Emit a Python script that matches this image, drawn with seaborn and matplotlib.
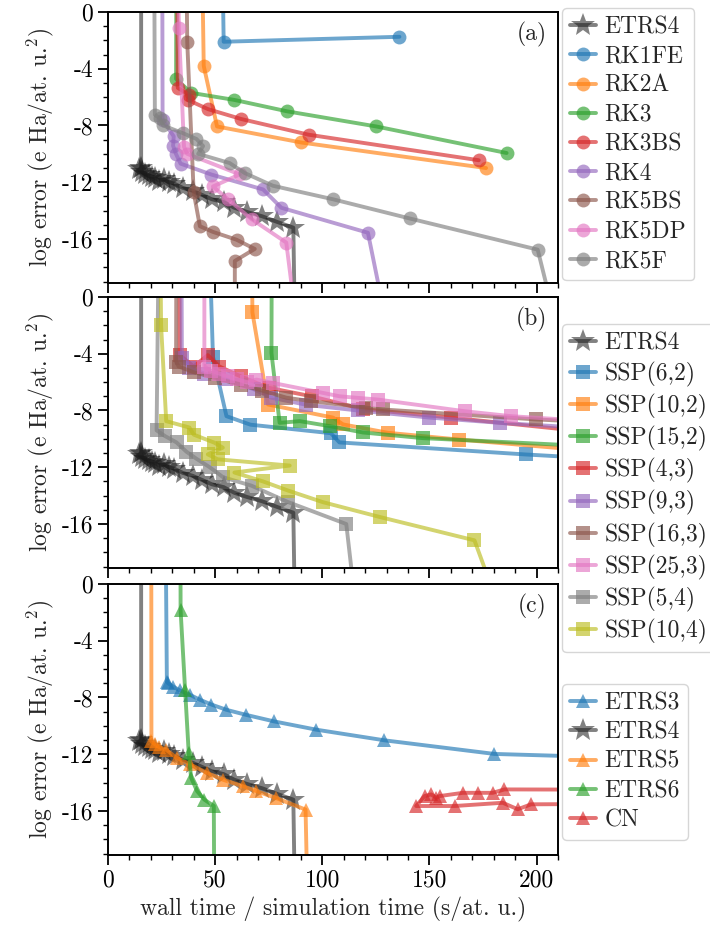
import matplotlib
matplotlib.use("Agg")
import matplotlib.pyplot as plt
from matplotlib.ticker import MultipleLocator, FuncFormatter
import seaborn as sns

# ---------------- DATA (wall time / sim time, log error) ----------------
# off-axis points (y > 0 or y < -19) only carry the lines out of the frame

etrs4_t = [15.5, 15.5, 14.5, 16.0, 17.5, 19.0, 20.5, 22.0, 24.0, 26.0, 28.5, 31.0, 35.0,
           39.5, 44.0, 48.5, 54.0, 59.0, 65.0, 72.0, 79.0, 86.5, 87.5]
etrs4_err = [8, -11.0, -11.1, -11.3, -11.4, -11.5, -11.6, -11.7, -11.9, -11.8, -12.0, -12.1, -12.4,
             -12.6, -12.9, -13.2, -13.4, -13.8, -14.1, -14.4, -14.8, -15.2, -25]

# panel (a): explicit Runge-Kutta
rk1fe_t = [53.0, 54.0, 136.0]
rk1fe_err = [8, -2.1, -1.75]
rk2a_t = [43.5, 44.7, 50.9, 90.2, 176.4]
rk2a_err = [8, -3.8, -8.07, -9.2, -11.0]
rk3_t = [32.0, 31.8, 38.8, 59.0, 83.5, 125.2, 186.0]
rk3_err = [8, -4.72, -5.7, -6.2, -7.0, -8.07, -9.94]
rk3bs_t = [32.0, 32.6, 38.0, 37.3, 46.7, 62.3, 93.6, 173.0]
rk3bs_err = [8, -5.35, -5.85, -6.2, -6.85, -7.55, -8.65, -10.45]
rk4_t = [25.3, 25.5, 30.7, 30.4, 31.7, 33.9, 48.3, 72.4, 80.9, 121.3, 134.0]
rk4_err = [8, -7.6, -8.77, -9.43, -9.99, -10.69, -11.46, -12.51, -13.8, -15.56, -25]
rk5bs_t = [36.3, 37.0, 40.0, 42.9, 49.0, 60.0, 68.5, 59.2, 59.2]
rk5bs_err = [8, -2.1, -12.7, -15.1, -15.5, -16.05, -16.7, -17.55, -25]
rk5dp_t = [32.5, 33.1, 35.5, 37.0, 61.5, 49.0, 56.0, 67.0, 83.2, 90.5]
rk5dp_err = [8, -1.15, -9.5, -10.0, -11.45, -12.3, -13.2, -14.6, -16.25, -25]
rk5f_t = [21.5, 21.9, 24.2, 25.8, 35.1, 41.3, 44.4, 42.1, 56.8, 63.8, 77.0, 105.0, 140.7, 200.5, 214.0]
rk5f_err = [8, -7.25, -7.5, -8.0, -8.55, -8.95, -9.45, -10.0, -10.65, -11.35, -12.25, -13.2, -14.55, -16.75, -25]

# panel (b): strong-stability-preserving
ssp62_t = [46.5, 49.0, 55.3, 66.5, 104.0, 108.0, 195.0, 230.0]
ssp62_err = [8, -4.2, -8.4, -9.0, -9.6, -10.25, -11.1, -11.4]
ssp102_t = [67.0, 67.4, 74.7, 105.0, 109.7, 130.6, 164.0, 230.0]
ssp102_err = [8, -1.08, -7.58, -8.5, -8.98, -9.57, -10.05, -10.9]
ssp152_t = [76.5, 76.3, 80.1, 89.5, 103.4, 119.0, 147.0, 230.0]
ssp152_err = [8, -3.95, -8.87, -8.75, -9.1, -9.55, -9.95, -10.55]
ssp43_t = [33.3, 33.5, 40.0, 46.6, 52.0, 62.0, 75.0, 95.0, 118.9, 160.0, 230.0]
ssp43_err = [8, -4.1, -4.9, -4.1, -4.9, -5.6, -6.4, -7.0, -7.9, -8.5, -9.6]
ssp93_t = [34.2, 34.5, 38.0, 45.0, 55.0, 68.0, 76.3, 92.6, 116.6, 150.0, 182.7, 230.0]
ssp93_err = [8, -4.3, -5.0, -5.4, -5.8, -6.5, -7.1, -7.6, -8.0, -8.5, -8.87, -9.3]
ssp163_t = [32.0, 31.8, 33.0, 40.0, 50.0, 62.0, 72.0, 83.3, 94.9, 120.5, 128.3, 199.8, 230.0]
ssp163_err = [8, -4.55, -4.9, -5.3, -5.7, -6.2, -6.6, -7.1, -7.35, -7.8, -7.93, -8.63, -8.85]
ssp253_t = [45.0, 45.0, 48.0, 52.0, 56.0, 60.0, 65.0, 69.3, 77.0, 100.3, 108.1, 116.6, 126.0, 166.4, 188.1, 230.0]
ssp253_err = [8, -4.9, -5.2, -5.4, -5.6, -5.8, -6.0, -5.82, -6.06, -6.76, -7.0, -7.11, -7.23, -8.05, -8.4, -8.8]
ssp54_t = [24.0, 22.7, 26.6, 32.0, 36.6, 41.3, 47.5, 53.7, 67.0, 84.0, 111.2, 118.0]
ssp54_err = [8, -9.4, -9.8, -10.25, -10.9, -11.4, -12.0, -12.7, -13.3, -14.45, -16.0, -25]
ssp104_t = [24.2, 24.8, 27.2, 38.0, 40.0, 49.7, 53.6, 46.6, 51.2, 84.8, 59.0, 72.4, 84.0, 100.3, 126.7, 171.0, 190.0]
ssp104_err = [8, -2.0, -8.75, -9.2, -9.7, -10.27, -10.62, -11.09, -11.44, -11.88, -12.37, -13.0, -13.64,
              -14.46, -15.5, -17.15, -25]

# panel (c): exponential time-reversal symmetric and Crank-Nicolson
etrs3_t = [26.7, 27.5, 28.1, 30.4, 33.5, 38.2, 42.9, 48.3, 55.3, 64.3, 77.3, 97.2, 129.0, 180.3, 230.0]
etrs3_err = [8, -6.9, -7.0, -7.23, -7.5, -7.81, -8.16, -8.5, -8.87, -9.22, -9.68, -10.27, -11.02, -11.98, -12.2]
etrs5_t = [20.2, 20.3, 22.0, 24.0, 27.3, 32.0, 38.2, 46.0, 53.7, 63.0, 69.3, 78.6, 92.2, 93.5]
etrs5_err = [8, -11.1, -11.3, -11.5, -11.7, -12.25, -12.7, -13.3, -13.8, -14.25, -14.6, -15.1, -15.9, -25]
etrs6_t = [33.8, 33.9, 36.0, 37.7, 38.8, 41.6, 45.0, 49.4, 49.7]
etrs6_err = [8, -1.85, -7.45, -11.9, -13.65, -14.6, -15.2, -15.65, -25]
cn_t = [240.0, 185.0, 179.5, 172.6, 165.6, 154.7, 153.2, 150.8, 147.7, 143.8, 161.7, 184.2, 191.2, 197.4, 240.0]
cn_err = [-14.5, -14.48, -14.72, -14.72, -14.72, -14.95, -15.07, -14.83, -14.95, -15.65, -15.65, -15.42,
          -15.88, -15.53, -15.5]

pal = sns.color_palette("tab10")

panels = [
    ("(a)", [("ETRS4", etrs4_t, etrs4_err, "k", "*"),
             ("RK1FE", rk1fe_t, rk1fe_err, pal[0], "o"),
             ("RK2A", rk2a_t, rk2a_err, pal[1], "o"),
             ("RK3", rk3_t, rk3_err, pal[2], "o"),
             ("RK3BS", rk3bs_t, rk3bs_err, pal[3], "o"),
             ("RK4", rk4_t, rk4_err, pal[4], "o"),
             ("RK5BS", rk5bs_t, rk5bs_err, pal[5], "o"),
             ("RK5DP", rk5dp_t, rk5dp_err, pal[6], "o"),
             ("RK5F", rk5f_t, rk5f_err, pal[7], "o")]),
    ("(b)", [("ETRS4", etrs4_t, etrs4_err, "k", "*"),
             ("SSP(6,2)", ssp62_t, ssp62_err, pal[0], "s"),
             ("SSP(10,2)", ssp102_t, ssp102_err, pal[1], "s"),
             ("SSP(15,2)", ssp152_t, ssp152_err, pal[2], "s"),
             ("SSP(4,3)", ssp43_t, ssp43_err, pal[3], "s"),
             ("SSP(9,3)", ssp93_t, ssp93_err, pal[4], "s"),
             ("SSP(16,3)", ssp163_t, ssp163_err, pal[5], "s"),
             ("SSP(25,3)", ssp253_t, ssp253_err, pal[6], "s"),
             ("SSP(5,4)", ssp54_t, ssp54_err, pal[7], "s"),
             ("SSP(10,4)", ssp104_t, ssp104_err, pal[8], "s")]),
    ("(c)", [("ETRS3", etrs3_t, etrs3_err, pal[0], "^"),
             ("ETRS4", etrs4_t, etrs4_err, "k", "*"),
             ("ETRS5", etrs5_t, etrs5_err, pal[1], "^"),
             ("ETRS6", etrs6_t, etrs6_err, pal[2], "^"),
             ("CN", cn_t, cn_err, pal[3], "^")]),
]

MSIZE = {"*": 18, "o": 10, "s": 9.5, "^": 10.5}

sns.set_theme(style="ticks")
plt.rcParams.update({
    "font.family": ["cmr10", "DejaVu Serif"],
    "mathtext.fontset": "cm",
    "axes.formatter.use_mathtext": True,
    "font.size": 17,
    "axes.labelsize": 17,
    "xtick.labelsize": 17,
    "ytick.labelsize": 17,
    "legend.fontsize": 17,
    "axes.linewidth": 1.4,
    "axes.edgecolor": "black",
    "xtick.color": "black",
    "ytick.color": "black",
    "xtick.major.size": 7, "xtick.minor.size": 3.5,
    "ytick.major.size": 7, "ytick.minor.size": 3.5,
    "xtick.major.width": 1.3, "xtick.minor.width": 1.0,
    "ytick.major.width": 1.3, "ytick.minor.width": 1.0,
})

fig = plt.figure(figsize=(7.1, 9.26), dpi=100)

ax_bottoms = [0.6944, 0.3866, 0.0767]
legend_tops = [0.9914, 0.650, 0.2613]

for i, (tag, series) in enumerate(panels):
    ax = fig.add_axes([0.152, ax_bottoms[i], 0.634, 0.2927])
    for name, xs, ys, col, mk in series:
        sns.lineplot(x=xs, y=ys, ax=ax, sort=False, estimator=None,
                     color=col, marker=mk, markersize=MSIZE[mk],
                     markeredgewidth=0, linewidth=2.8,
                     alpha=0.55 if col == "k" else 0.65, label=name)
    ax.set_xlim(0, 210)
    ax.set_ylim(-19.1, 0)
    ax.xaxis.set_major_locator(MultipleLocator(50))
    ax.xaxis.set_minor_locator(MultipleLocator(10))
    ax.yaxis.set_major_locator(MultipleLocator(4))
    ax.yaxis.set_minor_locator(MultipleLocator(1))
    ax.yaxis.set_major_formatter(FuncFormatter(lambda v, p: f"{v:.0f}".replace("\u2212", "-")))
    ax.xaxis.set_major_formatter(FuncFormatter(lambda v, p: f"{v:.0f}"))
    ax.tick_params(which="both", direction="out", top=False, right=False)
    ax.set_ylabel(r"log error (e Ha/at. u.$^2$)")
    ax.text(0.975, 0.965, tag, transform=ax.transAxes, ha="right", va="top")
    if i < 2:
        ax.set_xticklabels([])
        ax.set_xlabel("")
    else:
        ax.set_xlabel("wall time / simulation time (s/at. u.)")
    ax.legend(loc="upper left", bbox_to_anchor=(0.7915, legend_tops[i]),
              bbox_transform=fig.transFigure, borderaxespad=0,
              handlelength=1.1, handletextpad=0.35, labelspacing=0.3,
              borderpad=0.35, frameon=True)

fig.savefig("out.png", dpi=100)
